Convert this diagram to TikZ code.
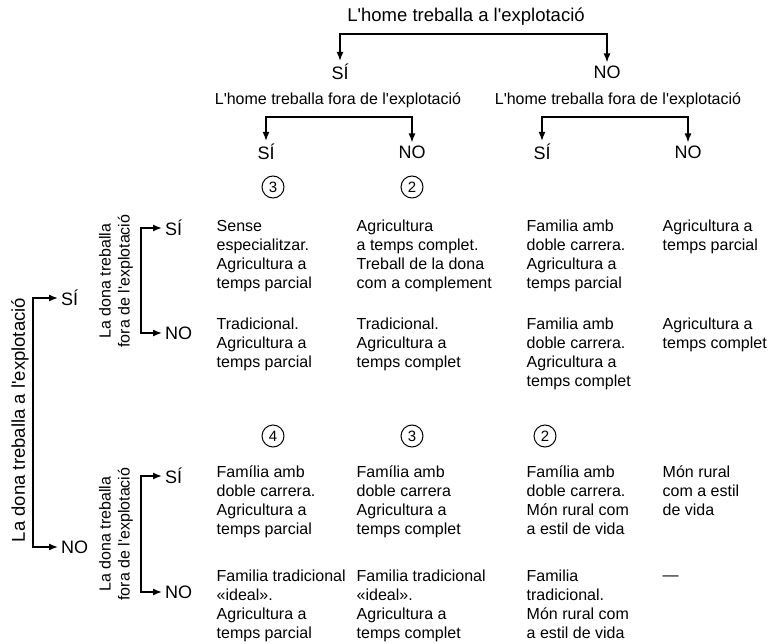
\documentclass[tikz,border=0pt]{standalone}
\usepackage{fontspec}
\setmainfont{Liberation Sans}
\usetikzlibrary{arrows.meta}
\newcommand{\apos}{\textquotesingle}
\begin{document}
\begin{tikzpicture}[x=1pt,y=-1pt,
  line width=1.4pt,
  arr/.style={-{Latex[length=9pt,width=7pt]}},
  big/.style={font=\fontsize{18.5}{21}\selectfont, inner sep=1pt},
  yn/.style={font=\fontsize{18}{21}\selectfont, inner sep=2.5pt},
  sub/.style={font=\fontsize{16}{19}\selectfont, inner sep=0pt},
  cell/.style={font=\fontsize{16}{19}\selectfont, align=left, anchor=north west, inner sep=0pt, execute at begin node=\strut},
  num/.style={circle, draw, line width=1pt, minimum size=22pt, inner sep=0pt, font=\fontsize{15}{17}\selectfont},
  rot/.style={rotate=90, align=center, font=\fontsize{16}{19}\selectfont, inner sep=0pt}]
\useasboundingbox (0,0) rectangle (770,644);

% ---- top tree (man)
\node[big] (t0) at (466,17) {L\apos home treballa a l\apos explotació};
\coordinate (b0) at (466,34);
\node[yn] (s1) at (340,72) {SÍ};
\node[yn] (n1) at (607,72) {NO};
\draw[arr] (b0) -| (s1);
\draw[arr] (b0) -| (n1);

\node[sub] (t1) at (338,100) {L\apos home treballa fora de l\apos explotació};
\node[sub] (t2) at (618,100) {L\apos home treballa fora de l\apos explotació};
\coordinate (b1) at (339,117);
\coordinate (b2) at (615,117);
\node[yn] (s11) at (266,152) {SÍ};
\node[yn] (n11) at (412,152) {NO};
\node[yn] (s12) at (542,152) {SÍ};
\node[yn] (n12) at (688,152) {NO};
\draw[arr] (b1) -| (s11);
\draw[arr] (b1) -| (n11);
\draw[arr] (b2) -| (s12);
\draw[arr] (b2) -| (n12);

% ---- left tree (woman)
\node[rot, font=\fontsize{18.5}{21}\selectfont] (ol) at (20,420) {La dona treballa a l\apos explotació};
\coordinate (ob) at (33,420);
\node[yn, anchor=west] (os) at (58,298) {SÍ};
\node[yn, anchor=west] (on) at (58,547) {NO};
\draw[arr] (ob) |- (os);
\draw[arr] (ob) |- (on);

\node[rot] (il1) at (116,281) {La dona treballa\\fora de l\apos explotació};
\coordinate (ib1) at (141,281);
\node[yn, anchor=west] (is1) at (162,228) {SÍ};
\node[yn, anchor=west] (in1) at (162,333) {NO};
\draw[arr] (ib1) |- (is1);
\draw[arr] (ib1) |- (in1);

\node[rot] (il2) at (116,534) {La dona treballa\\fora de l\apos explotació};
\coordinate (ib2) at (141,534);
\node[yn, anchor=west] (is2) at (162,476) {SÍ};
\node[yn, anchor=west] (in2) at (162,592) {NO};
\draw[arr] (ib2) |- (is2);
\draw[arr] (ib2) |- (in2);

% ---- circled numbers
\node[num] (c11) at (273,187) {3};
\node[num] (c12) at (412,187) {2};
\node[num] (c31) at (273,436) {4};
\node[num] (c32) at (412,436) {3};
\node[num] (c33) at (545,436) {2};

% ---- cells
\node[cell] (r1c1) at (216,219.5) {Sense\\especialitzar.\\Agricultura a\\temps parcial};
\node[cell] (r1c2) at (356,219.5) {Agricultura\\a temps complet.\\Treball de la dona\\com a complement};
\node[cell] (r1c3) at (526,219.5) {Familia amb\\doble carrera.\\Agricultura a\\temps parcial};
\node[cell] (r1c4) at (662,219.5) {Agricultura a\\temps parcial};

\node[cell] (r2c1) at (216,317.5) {Tradicional.\\Agricultura a\\temps parcial};
\node[cell] (r2c2) at (356,317.5) {Tradicional.\\Agricultura a\\temps complet};
\node[cell] (r2c3) at (526,317.5) {Familia amb\\doble carrera.\\Agricultura a\\temps complet};
\node[cell] (r2c4) at (662,317.5) {Agricultura a\\temps complet};

\node[cell] (r3c1) at (216,465.5) {Família amb\\doble carrera.\\Agricultura a\\temps parcial};
\node[cell] (r3c2) at (356,465.5) {Família amb\\doble carrera\\Agricultura a\\temps complet};
\node[cell] (r3c3) at (526,465.5) {Família amb\\doble carrera.\\Món rural com\\a estil de vida};
\node[cell] (r3c4) at (662,465.5) {Món rural\\com a estil\\de vida};

\node[cell] (r4c1) at (216,569.5) {Familia tradicional\\«ideal».\\Agricultura a\\temps parcial};
\node[cell] (r4c2) at (356,569.5) {Familia tradicional\\«ideal».\\Agricultura a\\temps complet};
\node[cell] (r4c3) at (526,569.5) {Familia\\tradicional.\\Món rural com\\a estil de vida};
\node[sub, anchor=west] (r4c4) at (662,578) {—};
\end{tikzpicture}
\end{document}
